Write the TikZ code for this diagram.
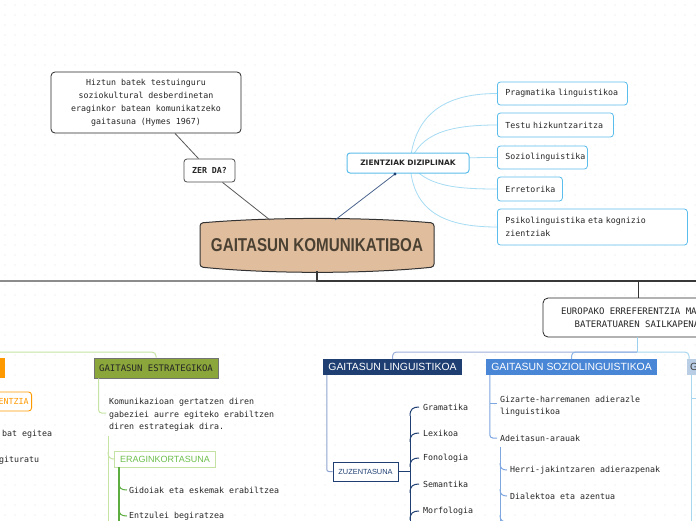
\documentclass[tikz,border=0pt]{standalone}
\usepackage{fontspec}
\usepackage{graphicx}
\setmainfont{Liberation Sans}
\newfontfamily\monof{DejaVu Sans Mono}
\newfontfamily\dejaf{DejaVu Sans}
\usetikzlibrary{calc}
\definecolor{tan}{HTML}{E0BD9D}
\definecolor{titletxt}{HTML}{4B4133}
\definecolor{navy}{HTML}{1F3F73}
\definecolor{sozb}{HTML}{4A86D6}
\definecolor{gboxc}{HTML}{B9CDE5}
\definecolor{olive}{HTML}{8BA63A}
\definecolor{orng}{HTML}{FF9900}
\definecolor{lgreen}{HTML}{C6E4A3}
\definecolor{egborder}{HTML}{C5E2A5}
\definecolor{mgreen}{HTML}{6DBF4B}
\definecolor{dgreen}{HTML}{5BAE3F}
\definecolor{cyanl}{HTML}{A6DCF4}
\definecolor{cyanb}{HTML}{5BBDEB}
\definecolor{txt}{HTML}{262626}
\definecolor{dotc}{HTML}{E2E2E2}
\definecolor{eubelow}{HTML}{9BD0EE}
\definecolor{tolingc}{HTML}{9CAFD9}
\definecolor{tosozc}{HTML}{8AB4E8}
\definecolor{togc}{HTML}{A9D7F0}
\definecolor{lingvc}{HTML}{8FA3D0}
\definecolor{sozvc}{HTML}{7EA7E0}
\begin{document}
\begin{tikzpicture}[x=1pt,y=-1pt,
  mtext/.style={font=\monof\fontsize{8.3}{12.5}\selectfont, text=txt, inner sep=0pt, anchor=west, align=left},
  tlbox/.style={draw=black!85, line width=0.8pt, rounded corners=4pt, fill=white, minimum width=190pt, minimum height=61pt, align=center, inner sep=0pt, font=\monof\fontsize{8.3}{13}\selectfont, text=txt},
  zerbox/.style={draw=black!70, line width=0.8pt, rounded corners=3pt, fill=white, minimum width=51pt, minimum height=23pt, inner sep=0pt, font=\monof\bfseries\fontsize{8.3}{10}\selectfont, text=txt},
  zbox/.style={draw=cyanb, line width=1pt, rounded corners=3pt, fill=white, minimum width=122pt, minimum height=20pt, inner sep=0pt, font=\dejaf\bfseries\fontsize{7.5}{9}\selectfont, text=txt},
  rbox/.style={draw=cyanb, line width=0.8pt, rounded corners=3pt, fill=white, anchor=west, inner xsep=8pt, inner ysep=0pt, align=left, font=\monof\fontsize{8.3}{12.5}\selectfont, text=txt},
  eubox/.style={draw=black!85, line width=0.8pt, rounded corners=5pt, fill=white, minimum width=188pt, minimum height=39pt, inner sep=0pt, align=center, font=\monof\fontsize{9}{13}\selectfont, text=txt},
  hdbox/.style={minimum height=16pt, inner sep=0pt, font=\fontsize{10.4}{12}\selectfont, text=white},
  dline/.style={draw=black!65, line width=0.8pt},
  cline/.style={draw=cyanl, line width=0.8pt},
]
\useasboundingbox (0,0) rectangle (696,520);
\fill[white] (0,0) rectangle (696,520);
\clip (0,0) rectangle (696,520);
% dot grid
\foreach \i in {5,15,...,695} {\foreach \j in {5,15,...,515} {\fill[dotc] (\i,\j) circle (0.6pt);}}

% ---------- title ----------
\draw[draw=black!80, line width=1pt, fill=tan, rounded corners=3pt]
  (200,223) .. controls (270,217) and (365,217) .. (434,223) -- (434,267)
  .. controls (365,274) and (270,274) .. (200,267) -- cycle;
\node[inner sep=0pt, text=titletxt] (title) at (317,245.5)
  {\resizebox{212pt}{13pt}{\bfseries GAITASUN KOMUNIKATIBOA}};
\coordinate (mtopL) at (270,220);
\coordinate (mtopR) at (335,220);
\coordinate (mbot) at (317,271);

% ---------- top left ----------
\node[tlbox] (hiz) at (146,102.5) {Hiztun batek testuinguru\\soziokultural desberdinetan\\eraginkor batean komunikatzeko\\gaitasuna (Hymes 1967)};
\node[zerbox] (zer) at (209.5,170.5) {ZER DA?};
\draw[dline] ($(hiz.south)+(29,0)$) -- ($(zer.north)+(-11,0)$);
\draw[dline] ($(zer.south)+(13,0)$) -- (mtopL);

% ---------- right list ----------
\coordinate (zc) at (410,163);
\node[rbox, minimum width=130pt, minimum height=23pt, text width=114pt] (prag) at (497,93.5) {Pragmatika linguistikoa};
\node[rbox, minimum width=116pt, minimum height=24pt, text width=100pt] (test) at (497,125) {Testu hizkuntzaritza};
\node[rbox, minimum width=90pt, minimum height=23pt, text width=74pt] (sozl) at (497,157.5) {Soziolinguistika};
\node[rbox, minimum width=65pt, minimum height=24pt, text width=49pt] (erre) at (497,189) {Erretorika};
\node[rbox, minimum width=190pt, minimum height=36pt, text width=174pt] (psik) at (497,227) {Psikolinguistika eta kognizio\\zientziak};
\draw[cline] (zc) .. controls (414,118) and (440,93.5) .. (prag.west);
\draw[cline] (zc) .. controls (420,133) and (450,125) .. (test.west);
\draw[cline] (zc) .. controls (440,158) and (470,157.5) .. (sozl.west);
\draw[cline] (zc) .. controls (425,186) and (455,189) .. (erre.west);
\draw[cline] (zc) .. controls (412,212) and (445,227) .. (psik.west);
\node[zbox] (zien) at (408,163) {ZIENTZIAK DIZIPLINAK};
\coordinate (zd) at ($(zien.south)+(-13,0.5)$);
\draw[draw=navy!80, line width=0.8pt] (mtopR) -- (zd);
\fill[navy] (zd) circle (1.6pt);

% ---------- main bus ----------
\coordinate (busL) at (0,281);
\coordinate (busM) at (317,281);
\coordinate (busR) at (696,281);
\draw[draw=black!45, line width=1.6pt] (busL) -- (busM);
\draw[draw=black!78, line width=1.3pt] (mbot) -- (busM) -- (busR);
\node[eubox] (euro) at (637,317.5) {EUROPAKO ERREFERENTZIA MARKO\\BATERATUAREN SAILKAPENA};
\draw[draw=black!80, line width=1pt] ($(euro.north)+(1,-17)$) -- ($(euro.north)+(1,0)$);

% ---------- second level ----------
\coordinate (hub) at (637,352);
\coordinate (gl) at (0,352);
\node[hdbox, fill=navy, minimum width=139pt] (ling) at (392.5,367) {GAITASUN LINGUISTIKOA};
\node[hdbox, fill=sozb, minimum width=171pt] (sozio) at (571.5,367) {GAITASUN SOZIOLINGUISTIKOA};
\node[hdbox, fill=gboxc, minimum width=50pt, anchor=west, text=black!75, align=left, text width=44pt, inner xsep=3pt] (gbox) at (687,367) {G};
\node[draw=black!55, line width=0.8pt, fill=olive, minimum width=124pt, minimum height=20pt, inner sep=0pt, font=\monof\fontsize{9}{11}\selectfont, text=txt] (estr) at (156,368) {GAITASUN ESTRATEGIKOA};
\node[fill=orng, minimum width=70pt, minimum height=20pt, inner sep=0pt, anchor=east] (orb) at (5,368) {};

\draw[draw=eubelow, line width=1pt] (euro.south) -- (hub);
\draw[draw=tolingc, line width=1pt, rounded corners=4pt] (hub) -| (ling.north);
\draw[draw=tosozc, line width=1pt, rounded corners=4pt] (hub) -| (sozio.north);
\draw[draw=togc, line width=1pt, rounded corners=4pt] (hub) -| ($(gbox.north west)+(2,0)$);
\draw[draw=lgreen, line width=1pt, rounded corners=4pt] (gl) -| (estr.north);

% ---------- left (clipped) ----------
\node[draw=orng, line width=0.9pt, rounded corners=3pt, fill=white, text=orng, anchor=east, text width=52pt, align=right, minimum height=19pt, inner xsep=3pt, inner ysep=0pt, font=\monof\fontsize{8.3}{10}\selectfont] (entz) at (32,401.5) {ENTZIA};
\node[mtext] (bat) at (2,434) {bat egitea};
\node[mtext] (gitu) at (-1,460) {gituratu};

% ---------- estrategikoa ----------
\node[mtext] (komu) at (109,415) {Komunikazioan gertatzen diren\\gabeziei aurre egiteko erabiltzen\\diren estrategiak dira.};
\draw[draw=lgreen, line width=1pt, rounded corners=3pt] ($(estr.south west)+(5,0)$) |- ($(komu.west)+(-3,-2)$);
\node[draw=egborder, line width=0.9pt, fill=white, text=mgreen, minimum width=101pt, minimum height=16pt, inner sep=0pt, font=\fontsize{9}{11}\selectfont, anchor=west] (erag) at (114,459) {ERAGINKORTASUNA};
\coordinate (ev1) at ($(komu.south west)+(-1,4)$);
\draw[draw=lgreen, line width=1pt] (ev1) -- ++(0,100);
\draw[draw=lgreen, line width=1pt] ($(erag.west)+(-6,-7)$) .. controls ($(erag.west)+(-6,-2)$) and ($(erag.west)+(-4,0)$) .. (erag.west);
\node[mtext] (gido) at (129,490) {Gidoiak eta eskemak erabiltzea};
\node[mtext] (entzu) at (129,516) {Entzulei begiratzea};
\draw[draw=dgreen, line width=1.4pt] ($(erag.south west)+(5,0)$) -- ++(0,60);
\foreach \n in {gido,entzu}
  \draw[draw=dgreen, line width=1pt] ($(\n.west)+(-10,-7)$) .. controls ($(\n.west)+(-10,-2)$) and ($(\n.west)+(-8,0)$) .. ($(\n.west)+(-2,0)$);

% ---------- linguistikoa ----------
\node[draw=navy, line width=1pt, fill=white, text=navy, minimum width=65pt, minimum height=19pt, inner sep=0pt, font=\fontsize{7.4}{9}\selectfont] (zuz) at (365.5,471.5) {ZUZENTASUNA};
\draw[draw=lingvc, line width=1pt, rounded corners=2pt] ($(ling.south west)+(4,0)$) |- (zuz.west);
\node[mtext] (gram) at (423,407) {Gramatika};
\node[mtext] (lex) at (423,433) {Lexikoa};
\node[mtext] (fono) at (423,458) {Fonologia};
\node[mtext] (sem) at (423,484) {Semantika};
\node[mtext] (morf) at (423,511) {Morfologia};
\draw[draw=navy, line width=1pt] (zuz.east) -- ++(12,0);
\draw[draw=navy, line width=1pt] ($(gram.west)+(-13,9)$) -- ++(0,120);
\foreach \n in {gram,lex,fono,sem,morf}
  \draw[draw=navy, line width=1pt] ($(\n.west)+(-13,9)$) .. controls ($(\n.west)+(-13,2)$) and ($(\n.west)+(-10,0)$) .. ($(\n.west)+(-4,0)$);

% ---------- soziolinguistikoa ----------
\node[mtext] (giz) at (500,406) {Gizarte-harremanen adierazle\\linguistikoa};
\node[mtext] (adei) at (500,438) {Adeitasun-arauak};
\draw[draw=sozvc, line width=1pt, rounded corners=3pt] ($(sozio.south west)+(4,0)$) |- ($(adei.west)+(-3,0)$);
\draw[draw=sozvc, line width=1pt] ($(sozio.south west)+(4,28)$) -- ++(7,0);
\node[mtext] (herri) at (510,470) {Herri-jakintzaren adierazpenak};
\node[mtext] (dial) at (510,496) {Dialektoa eta azentua};
\coordinate (h3) at (510,522);
\draw[draw=sozvc, line width=1pt] ($(adei.west)+(0,9)$) -- ++(0,90);
\foreach \n in {herri,dial,h3}
  \draw[draw=sozvc, line width=1pt] ($(\n.west)+(-10,-7)$) .. controls ($(\n.west)+(-10,-2)$) and ($(\n.west)+(-8,0)$) .. ($(\n.west)+(-3,0)$);

% ---------- G branch ----------
\draw[draw=togc, line width=1pt] ($(gbox.south west)+(4,0)$) -- ++(0,150);
\draw[draw=togc, line width=1pt] ($(gbox.south west)+(4,23)$) -- ++(10,0);
\end{tikzpicture}
\end{document}
